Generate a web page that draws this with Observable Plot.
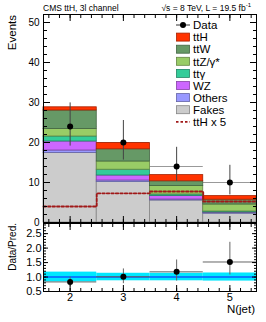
<!DOCTYPE html>
<html><head><meta charset="utf-8">
<script src="https://cdn.jsdelivr.net/npm/d3@7"></script>
<script src="https://cdn.jsdelivr.net/npm/@observablehq/plot@0.6"></script>
<style>
html,body{margin:0;padding:0;background:#fff;}
#chart{position:relative;width:266px;height:322px;overflow:hidden;font-family:"Liberation Sans",Arial,sans-serif;background:#fff;}
#chart svg{position:absolute;left:0;}
</style></head><body><div id="chart"></div>
<script>
// ---- data ----
const nJet = [2, 3, 4, 5];
const binLow = [1.5, 2.5, 3.5, 4.5];
const binHigh = [2.5, 3.5, 4.5, 5.5];
const fakes = [17.4, 10.1, 5.5, 2.2];
const others = [0.6, 0.4, 0.25, 0.2];
const wz = [2.25, 1.25, 0.85, 0.1];
const ttgamma = [1.25, 1.45, 0.4, 0.25];
const ttz = [1.9, 2.05, 2.1, 1.75];
const ttw = [4.6, 3.05, 1.2, 1.2];
const tth = [0.8, 1.55, 1.55, 0.9];
const tthX5 = [4.0, 7.3, 7.75, 5.25];
const dataVals = [24, 20, 14, 10];
const dataErrLow = [4.9, 4.4, 3.7, 3.1];
const dataErrHigh = [5.9, 5.5, 4.8, 4.3];
const ratioVals = [0.83, 1.01, 1.18, 1.52];
const ratioLow = [0.66, 0.77, 0.86, 1.07];
const ratioHigh = [1.0, 1.28, 1.59, 2.2];
const predUnc = [0.17, 0.13, 0.13, 0.14];
const yTicksMain = [0, 10, 20, 30, 40, 50];
const yTicksRatio = [0.5, 1.0, 1.5, 2.0, 2.5];
const xTicks = [2, 3, 4, 5];

const processNames = ["Fakes", "Others", "WZ", "ttγ", "ttZ/γ*", "ttW", "ttH"];
const processValues = [fakes, others, wz, ttgamma, ttz, ttw, tth];
const processColors = ["#cccccc", "#9999ff", "#cc66ff", "#33cc99", "#99cc66", "#669966", "#ff3300"];
const legendNames = ["ttH", "ttW", "ttZ/γ*", "ttγ", "WZ", "Others", "Fakes"];

// ---- derived tables ----
const stackRows = [];
nJet.forEach((n, i) => {
  let base = 0;
  processNames.forEach((p, k) => {
    const v = processValues[k][i];
    stackRows.push({x1: binLow[i], x2: binHigh[i], y1: base, y2: base + v,
      fill: processColors[k], stroke: d3.color(processColors[k]).darker(1.2).formatHex()});
    base += v;
  });
});
const dataRows = nJet.map((n, i) => ({x: n, lo: binLow[i], hi: binHigh[i], y: dataVals[i],
  y1: dataVals[i] - dataErrLow[i], y2: dataVals[i] + dataErrHigh[i]}));
const stepRows = nJet.map((n, i) => ({x: binLow[i], y: tthX5[i]}));
stepRows.push({x: binHigh[binHigh.length - 1], y: tthX5[tthX5.length - 1]});
const ratioRows = nJet.map((n, i) => ({x: n, lo: binLow[i], hi: binHigh[i], y: ratioVals[i],
  y1: ratioLow[i], y2: ratioHigh[i], b1: 1 - predUnc[i], b2: 1 + predUnc[i]}));

const minorMainY = d3.range(0, 52.01, 2);
const minorX = d3.range(1.6, 5.45, 0.2);
const minorRatioY = d3.range(0.5, 2.851, 0.1);
const font = {fontFamily: "Liberation Sans, Arial, sans-serif", fontSize: "10px", background: "transparent", overflow: "visible"};

function inwardTicks(opts) {
  const {yMajor, yMinor, major = 7, minor = 4, xmajor = 6, xminor = 3} = opts;
  return [
    Plot.axisY({anchor: "left", ticks: yMajor, tickSize: major, dx: major, fill: "none", label: null}),
    Plot.axisY({anchor: "left", ticks: yMinor, tickSize: minor, dx: minor, fill: "none", label: null}),
    Plot.axisY({anchor: "right", ticks: yMajor, tickSize: major, dx: -major, fill: "none", label: null}),
    Plot.axisY({anchor: "right", ticks: yMinor, tickSize: minor, dx: -minor, fill: "none", label: null}),
    Plot.axisX({anchor: "bottom", ticks: xTicks, tickSize: xmajor, dy: -xmajor, fill: "none", label: null}),
    Plot.axisX({anchor: "bottom", ticks: minorX, tickSize: xminor, dy: -xminor, fill: "none", label: null}),
    Plot.axisX({anchor: "top", ticks: xTicks, tickSize: xmajor, dy: xmajor, fill: "none", label: null}),
    Plot.axisX({anchor: "top", ticks: minorX, tickSize: xminor, dy: xminor, fill: "none", label: null})
  ];
}

// ---- main panel ----
const main = Plot.plot({
  width: 266, height: 224,
  marginTop: 14, marginBottom: 2, marginLeft: 43, marginRight: 10,
  style: font,
  x: {domain: [1.5, 5.5]},
  y: {domain: [0, 52]},
  color: {type: "identity"},
  marks: [
    Plot.ruleY(dataRows, {y: "y", x1: "lo", x2: "hi", stroke: "#999", strokeWidth: 1}),
    Plot.rect(stackRows, {x1: "x1", x2: "x2", y1: "y1", y2: "y2", fill: "fill", stroke: "stroke", strokeWidth: 0.8}),
    Plot.line(stepRows, {x: "x", y: "y", curve: "step-after", stroke: "#a01818", strokeWidth: 1.8, strokeDasharray: "2.5,2"}),
    Plot.ruleX(dataRows, {x: "x", y1: "y1", y2: "y2", stroke: "#444", strokeWidth: 1}),
    Plot.dot(dataRows, {x: "x", y: "y", r: 3, fill: "black", stroke: "none"}),
    ...inwardTicks({yMajor: yTicksMain, yMinor: minorMainY}),
    Plot.axisY({anchor: "left", ticks: yTicksMain, tickSize: 0, tickPadding: 4, label: null, fontSize: 10}),
    Plot.frame({stroke: "black", strokeWidth: 1})
  ]
});
main.style.top = "0px";

// ---- ratio panel ----
const ratio = Plot.plot({
  width: 266, height: 100,
  marginTop: 1, marginBottom: 31, marginLeft: 43, marginRight: 10,
  style: font,
  x: {domain: [1.5, 5.5]},
  y: {domain: [0.5, 2.85]},
  marks: [
    Plot.rect(ratioRows, {x1: "lo", x2: "hi", y1: "b1", y2: "b2", fill: "#00e8ff"}),
    Plot.ruleY([1], {stroke: "#0a5cff", strokeWidth: 1.5}),
    Plot.ruleY(ratioRows, {y: "y", x1: "lo", x2: "hi", stroke: "#666", strokeWidth: 1}),
    Plot.ruleX(ratioRows, {x: "x", y1: "y1", y2: "y2", stroke: "#666", strokeWidth: 1}),
    Plot.dot(ratioRows, {x: "x", y: "y", r: 3, fill: "black", stroke: "none"}),
    ...inwardTicks({yMajor: yTicksRatio, yMinor: minorRatioY, major: 5, minor: 3}),
    Plot.axisY({anchor: "left", ticks: yTicksRatio, tickSize: 0, tickPadding: 2, tickFormat: d3.format(".1f"), label: null, fontSize: 11}),
    Plot.axisX({anchor: "bottom", ticks: xTicks, tickSize: 0, tickPadding: 2, tickFormat: d3.format("d"), label: null, fontSize: 11}),
    Plot.frame({stroke: "black", strokeWidth: 1})
  ]
});
ratio.style.top = "222px";

const chart = document.getElementById("chart");
chart.appendChild(main);
chart.appendChild(ratio);

// ---- overlay: titles, axis labels, legend ----
const ov = d3.select(chart).append("svg")
  .attr("width", 266).attr("height", 322)
  .style("top", "0px").style("pointer-events", "none")
  .attr("font-family", "Liberation Sans, Arial, sans-serif");

ov.append("text").attr("x", 43).attr("y", 10.5).attr("font-size", 8.5).text("CMS ttH, 3l channel");
const lumi = ov.append("text").attr("x", 251).attr("y", 10.5).attr("font-size", 8.5).attr("text-anchor", "end");
lumi.append("tspan").text("√s = 8 TeV, L = 19.5 fb");
lumi.append("tspan").attr("font-size", 6).attr("dy", -3.5).text("-1");

ov.append("text").attr("transform", "translate(15.5,15) rotate(-90)").attr("text-anchor", "end")
  .attr("font-size", 11.5).text("Events");
ov.append("text").attr("transform", "translate(16,223) rotate(-90)").attr("text-anchor", "end")
  .attr("font-size", 10).text("Data/Pred.");
ov.append("text").attr("x", 255).attr("y", 313).attr("text-anchor", "end").attr("font-size", 11.5).text("N(jet)");

// legend
const lx = 176, lw = 13, tx = 193, ly0 = 25, dyL = 12.1;
const lg = ov.append("g").attr("font-size", 11.5);
lg.append("line").attr("x1", lx).attr("x2", lx + lw + 1).attr("y1", ly0).attr("y2", ly0).attr("stroke", "#333");
lg.append("circle").attr("cx", lx + lw / 2 + 0.5).attr("cy", ly0).attr("r", 3).attr("fill", "black");
lg.append("text").attr("x", tx).attr("y", ly0 + 4.2).text("Data");
legendNames.forEach((name, j) => {
  const k = processNames.indexOf(name);
  const y = ly0 + dyL * (j + 1);
  lg.append("rect").attr("x", lx + 0.5).attr("y", y - 4).attr("width", lw).attr("height", 8)
    .attr("fill", processColors[k]).attr("stroke", d3.color(processColors[k]).darker(1.2).formatHex()).attr("stroke-width", 0.8);
  lg.append("text").attr("x", tx).attr("y", y + 4.2).text(name);
});
const ly8 = ly0 + dyL * 8;
lg.append("line").attr("x1", lx).attr("x2", lx + lw + 1).attr("y1", ly8).attr("y2", ly8)
  .attr("stroke", "#a01818").attr("stroke-width", 1.8).attr("stroke-dasharray", "2.5,2");
lg.append("text").attr("x", tx).attr("y", ly8 + 4.2).text("ttH x 5");
</script></body></html>
